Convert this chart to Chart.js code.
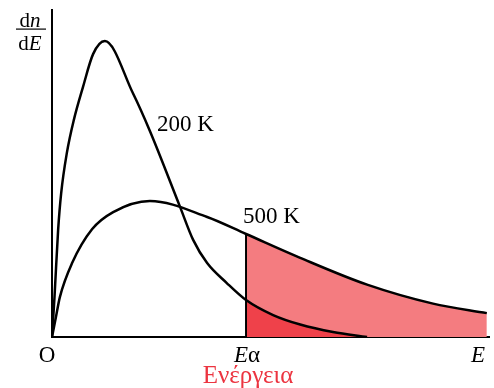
<!DOCTYPE html>
<html>
<head>
<meta charset="utf-8">
<script src="https://cdn.jsdelivr.net/npm/chart.js@4.4.0/dist/chart.umd.min.js"></script>
<style>
  body { margin: 0; background: #fff; }
</style>
</head>
<body>
<canvas id="chart" width="494" height="388"></canvas>
<script>
// energy in arbitrary units (0..100 along the axis), dn/dE in arbitrary units (0..100)
const energy200 = [0, 0.57, 1.4, 2.1, 3.4, 5.0, 7.1, 9.4, 12.1, 18.5, 22.4, 29.3, 32.3, 35.5, 40.0, 44.4, 50.6, 56.8, 64.3, 72.1];
const dnde200   = [0, 12.2, 32.7, 44.0, 56.3, 66.4, 76.5, 86.5, 90.5, 74.6, 63.0, 39.8, 29.7, 22.6, 16.5, 11.3, 6.7, 3.8, 1.5, 0];
const energy500 = [0, 0.9, 1.8, 4.6, 9.2, 14.0, 22.4, 35.5, 44.4, 56.8, 72.1, 87.2, 99.5];
const dnde500   = [0, 6.1, 12.2, 22.6, 33.0, 38.2, 41.6, 36.7, 31.5, 24.2, 16.0, 10.2, 7.3];
const activationEnergy = 44.4;
const curveLabels = ['200 K', '500 K'];
const tickLabels = ['O', 'Eα', 'E'];
const axisTitle = 'Ενέργεια';

function points(xs, ys) {
    return xs.map((v, i) => ({ x: v, y: ys[i] }));
}

function tail(xs, ys) {
    return points(xs, ys).filter(p => p.x >= activationEnergy);
}

const serif = '"Liberation Serif", "DejaVu Serif", serif';

// draws text made of [string, italic] pieces, centred on cx
function drawMixed(ctx, parts, cx, baseY, size) {
    let total = 0;
    parts.forEach(p => {
        ctx.font = (p[1] ? 'italic ' : '') + size + 'px ' + serif;
        total += ctx.measureText(p[0]).width;
    });
    let x = cx - total / 2;
    parts.forEach(p => {
        ctx.font = (p[1] ? 'italic ' : '') + size + 'px ' + serif;
        ctx.fillText(p[0], x, baseY);
        x += ctx.measureText(p[0]).width;
    });
}

const textLabels = {
    id: 'textLabels',
    afterDraw(chart) {
        const ctx = chart.ctx;
        const x = chart.scales.x;
        const area = chart.chartArea;
        ctx.save();
        ctx.fillStyle = '#000';
        ctx.textAlign = 'left';
        ctx.textBaseline = 'alphabetic';

        // dn/dE
        drawMixed(ctx, [['d', false], ['n', true]], 30, 27, 21);
        ctx.fillRect(16, 28.5, 30, 1.2);
        drawMixed(ctx, [['d', false], ['E', true]], 30, 50, 21);

        // curve labels
        ctx.font = '23px ' + serif;
        ctx.fillText(curveLabels[0], 157, 131);
        ctx.fillText(curveLabels[1], 243, 223);

        // tick labels along the energy axis
        const base = area.bottom + 25;
        drawMixed(ctx, [[tickLabels[0], false]], x.getPixelForValue(0) - 5, base, 23);
        drawMixed(ctx, [[tickLabels[1].charAt(0), true], [tickLabels[1].slice(1), false]], x.getPixelForValue(activationEnergy) + 1, base, 23);
        drawMixed(ctx, [[tickLabels[2], true]], x.getPixelForValue(100) - 11, base, 23);

        ctx.fillStyle = '#ec3440';
        drawMixed(ctx, [[axisTitle, false]], x.getPixelForValue(activationEnergy) + 2, area.bottom + 46, 25);
        ctx.restore();
    }
};

const zeroSize = s => { s.width = s.isHorizontal() ? s.width : 0; s.height = s.isHorizontal() ? 0 : s.height; };

new Chart(document.getElementById('chart'), {
    type: 'line',
    data: {
        datasets: [
            {
                data: points(energy200, dnde200),
                borderColor: '#000',
                borderWidth: 2.5,
                order: 0
            },
            {
                data: points(energy500, dnde500),
                borderColor: '#000',
                borderWidth: 2.5,
                order: 0
            },
            {
                data: [{ x: activationEnergy, y: 0 }, { x: activationEnergy, y: dnde500[energy500.indexOf(activationEnergy)] }],
                borderColor: '#000',
                borderWidth: 2,
                cubicInterpolationMode: 'default',
                tension: 0,
                order: 1
            },
            {
                data: tail(energy200, dnde200),
                borderWidth: 0,
                borderColor: 'rgba(0,0,0,0)',
                backgroundColor: '#ef414a',
                fill: 'origin',
                order: 2
            },
            {
                data: tail(energy500, dnde500),
                borderWidth: 0,
                borderColor: 'rgba(0,0,0,0)',
                backgroundColor: '#f47c80',
                fill: 'origin',
                order: 3
            }
        ]
    },
    options: {
        responsive: false,
        animation: false,
        devicePixelRatio: 1,
        layout: { padding: { left: 52, top: 10, right: 5, bottom: 51 } },
        elements: {
            point: { radius: 0 },
            line: { cubicInterpolationMode: 'monotone' }
        },
        plugins: {
            legend: { display: false },
            tooltip: { enabled: false }
        },
        scales: {
            x: {
                type: 'linear',
                min: 0,
                max: 100,
                ticks: { display: false },
                grid: { display: false },
                border: { display: true, color: '#000', width: 2 },
                afterFit: zeroSize
            },
            y: {
                type: 'linear',
                min: 0,
                max: 100,
                ticks: { display: false },
                grid: { display: false },
                border: { display: true, color: '#000', width: 2 },
                afterFit: zeroSize
            }
        }
    },
    plugins: [textLabels]
});
</script>
</body>
</html>
